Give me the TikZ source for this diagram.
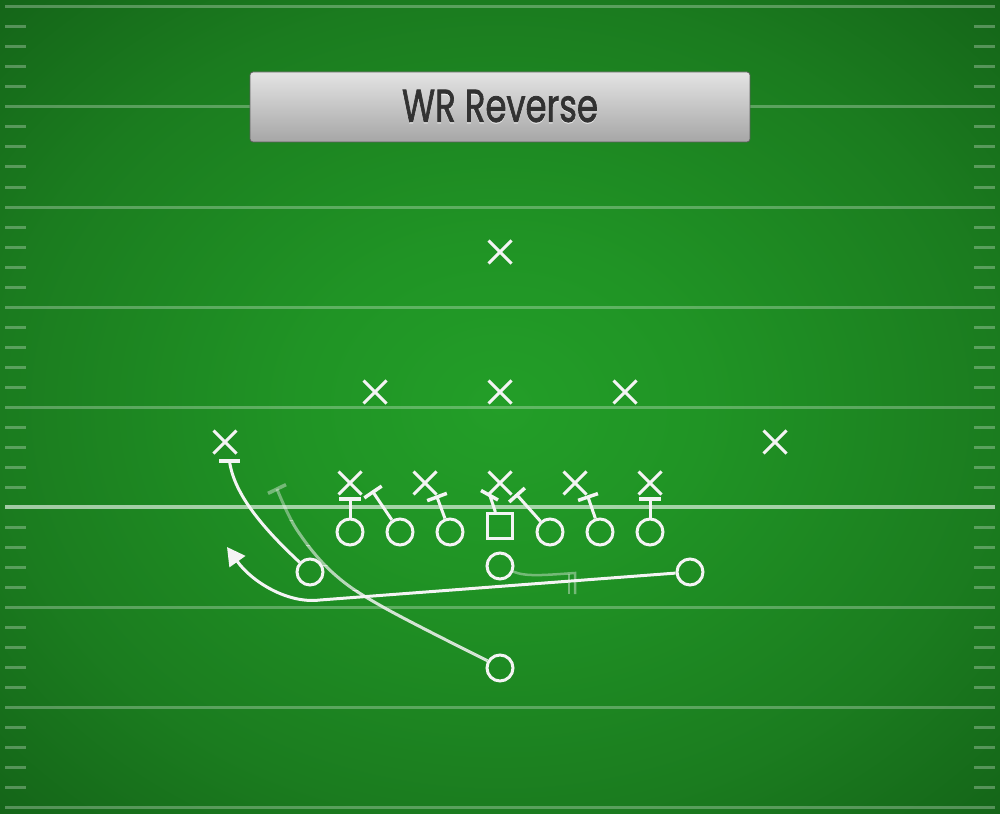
\documentclass[tikz,border=0pt]{standalone}
\usepackage{fontspec}
\newfontfamily\titlefont{Poppins}[FakeBold=1.8]
\usetikzlibrary{shapes.misc,arrows.meta,calc}
\definecolor{fc0}{RGB}{35,158,40}
\definecolor{fcm}{RGB}{32,148,37}
\definecolor{fc1}{RGB}{27,124,31}
\definecolor{fc2}{RGB}{20,100,24}
\definecolor{ink}{RGB}{244,244,244}
\definecolor{boxtop}{RGB}{228,228,228}
\definecolor{boxbot}{RGB}{166,166,166}
\definecolor{boxline}{RGB}{95,95,95}
\definecolor{titletext}{RGB}{50,50,50}
\pgfdeclareradialshading{fieldshade}{\pgfpoint{0bp}{0bp}}{color(0bp)=(fc0); color(10bp)=(fcm); color(25bp)=(fc1); color(36bp)=(fc2); color(50bp)=(fc2)}
\begin{document}
\begin{tikzpicture}[x=1pt,y=-1pt,
  player/.style={draw=ink, line width=3pt, circle, minimum size=26pt, inner sep=0pt},
  ctr/.style={draw=ink, line width=3pt, rectangle, minimum size=25pt, inner sep=0pt},
  defender/.style={draw=ink, line width=3pt, cross out, minimum size=20pt, inner sep=0pt},
  route/.style={draw=ink, line width=3pt},
  blk/.style={draw=ink, line width=3pt},
  barline/.style={draw=ink, line width=3.5pt},
  yard/.style={draw=white, opacity=0.28, line width=3pt},
  hashmark/.style={draw=white, opacity=0.28, line width=3pt}]
\useasboundingbox (0,0) rectangle (1000,813);
\shade[shading=fieldshade] (0,0) rectangle (1000,813);
% field lines
\foreach \y in {7,107,207,307,407,607,707,807}{
  \draw[yard] (5,\y) -- (995,\y);
}
\draw[draw=white, opacity=0.6, line width=3.5pt] (5,507) -- (995,507);
\foreach \b in {7,107,207,307,407,507,607,707}{
  \foreach \k in {20,40,60,80}{
    \draw[hashmark] (5,{\b+\k}) -- (26,{\b+\k});
    \draw[hashmark] (974,{\b+\k}) -- (995,{\b+\k});
  }
}
% title
\node (titlebox) [rounded corners=3pt, minimum width=500pt, minimum height=70pt,
  top color=boxtop, bottom color=boxbot, draw=boxline, line width=0.8pt] at (500,107) {};
\node (titleshadow) [inner sep=0pt, text=white, opacity=0.45] at (500,107.3)
  {\resizebox{196pt}{32pt}{\titlefont WR Reverse}};
\node (titletext) [inner sep=0pt, text=titletext] at (500,106)
  {\resizebox{196pt}{32pt}{\titlefont WR Reverse}};
% defense
\node[defender] (s) at (500,252) {};
\node[defender] (lb1) at (375,392) {};
\node[defender] (lb2) at (500,392) {};
\node[defender] (lb3) at (625,392) {};
\node[defender] (cbl) at (225,442) {};
\node[defender] (cbr) at (775,442) {};
\node[defender] (dl1) at (350,483) {};
\node[defender] (dl2) at (425,483) {};
\node[defender] (dl3) at (500,483) {};
\node[defender] (dl4) at (575,483) {};
\node[defender] (dl5) at (650,483) {};
% offense
\node[player] (lt) at (350,532) {};
\node[player] (lg) at (400,532) {};
\node[player] (lx) at (450,532) {};
\node[ctr] (c) at (500,526) {};
\node[player] (rx) at (550,532) {};
\node[player] (rg) at (600,532) {};
\node[player] (rt) at (650,532) {};
\node[player] (qb) at (500,566) {};
\node[player] (wl) at (310,572) {};
\node[player] (wr) at (690,572) {};
\node[player] (rb) at (500,668) {};
% blocks
\coordinate (b1) at (350,499);
\draw[blk] (lt) -- (b1);
\draw[barline] ($(b1)+(-11,0)$) -- ($(b1)+(11,0)$);
\coordinate (b2) at (373,492);
\draw[blk] (lg) -- (b2);
\draw[barline] ($(b2)!10.5pt!90:(lg)$) -- ($(b2)!10.5pt!-90:(lg)$);
\coordinate (b3) at (437,497);
\draw[blk] (lx) -- (b3);
\draw[barline] ($(b3)!10.5pt!90:(lx)$) -- ($(b3)!10.5pt!-90:(lx)$);
\coordinate (b4) at (490,496);
\coordinate (b4a) at (481,490.5);
\coordinate (b4b) at (498,500);
\draw[blk] (c) -- (b4);
\draw[barline] (b4a) -- (b4b);
\coordinate (b5) at (517,495);
\draw[blk] (rx) -- (b5);
\draw[barline] ($(b5)!10.5pt!90:(rx)$) -- ($(b5)!10.5pt!-90:(rx)$);
\coordinate (b6) at (588,497);
\draw[blk] (rg) -- (b6);
\draw[barline] ($(b6)!10.5pt!90:(rg)$) -- ($(b6)!10.5pt!-90:(rg)$);
\coordinate (b7) at (650,499);
\draw[blk] (rt) -- (b7);
\draw[barline] ($(b7)+(-11,0)$) -- ($(b7)+(11,0)$);
% QB pitch marker (faded)
\coordinate (pm) at (575,573);
\coordinate (pmb) at (575,594);
\coordinate (pl) at (569,574);
\coordinate (plb) at (569,594);
\draw[route, opacity=0.4, line width=2.5pt] (qb) .. controls (526,577) and (545,575) .. (pm) -- (pmb);
\draw[route, opacity=0.4, line width=2.5pt] (pl) -- (plb);
% RB route (fading toward the top)
\coordinate (rbend) at (277,489);
\coordinate (rbk) at (297,530);
\coordinate (rbm) at (333,573);
\coordinate (rbn) at (383,607);
\foreach \ya/\yb/\op in {470/520/0.4, 520/545/0.5, 545/565/0.6, 565/590/0.72, 590/690/0.85}{
  \begin{scope}
    \clip (0,\ya) rectangle (1000,\yb);
    \draw[route, opacity=\op] plot[smooth, tension=0.6] coordinates {(rbend) (rbk) (rbm) (rbn) (rb.150)};
  \end{scope}
}
\draw[barline, opacity=0.4] ($(rbend)!10pt!90:(rbk)$) -- ($(rbend)!10pt!-90:(rbk)$);
% WR left route
\coordinate (wlend) at (229.5,461);
\draw[route] (wl) .. controls (265,530) and (234,495) .. (wlend);
\draw[barline] ($(wlend)+(-10.5,0)$) -- ($(wlend)+(10.5,0)$);
% reverse
\coordinate (rvmid) at (320,600);
\coordinate (rvend) at (227,547);
\draw[route, -{Triangle[length=18pt,width=19pt]}] (wr) -- (rvmid) .. controls (288,604) and (252,582) .. (rvend);
\end{tikzpicture}
\end{document}
